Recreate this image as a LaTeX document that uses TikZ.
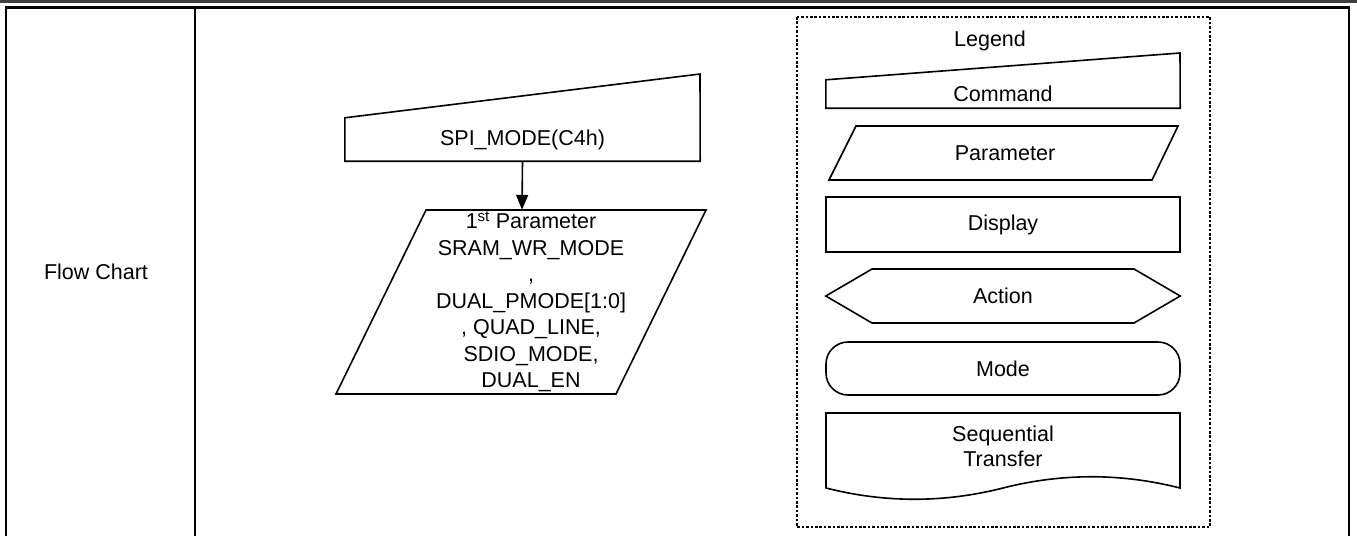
\documentclass[tikz,border=0pt]{standalone}
\usepackage{fontspec}
\setmainfont{Liberation Sans}
\usetikzlibrary{arrows.meta}

\tikzset{
  shp/.style={draw, line width=1.6pt},
  lbl/.style={inner sep=0pt, font=\fontsize{21.5}{26.5}\selectfont},
  frm/.style={line width=2.4pt},
}

\begin{document}
\begin{tikzpicture}[x=1pt, y=-1pt]
\useasboundingbox (0,0) rectangle (1357,536);
\fill[black!75] (0,0) rectangle (1357,2.8);
\draw[frm] (6,536) -- (6,7.5) -- (1349,7.5) -- (1349,536);
\draw[frm] (195,7.5) -- (195,536);
\node[lbl] (fc) at (96,272) {Flow Chart};

\node[lbl, minimum width=355, minimum height=43] (cmd) at (522.5,139.5) {SPI\_MODE(C4h)};
\draw[shp] (cmd.south west) -- (cmd.south east) -- (700,74) -- (cmd.north west) -- cycle;
\node[lbl, minimum height=184] (par) at (522,302) {};
\node[lbl, align=center] (partxt) at (531,302) {1\textsuperscript{st} Parameter\\SRAM\_WR\_MODE\\,\\DUAL\_PMODE[1:0]\\, QUAD\_LINE,\\SDIO\_MODE,\\DUAL\_EN};
\draw[shp] (336,394) -- (616,394) -- (706,210) -- (426,210) -- cycle;
\draw[line width=1.6pt, -{Triangle[width=12pt,length=15pt]}] (cmd.south) -- (par.north);

\draw[line width=1.6pt, dash pattern=on 2.6pt off 1.8pt] (797,17) rectangle (1210,527);
\node[lbl] (lgd) at (990,41) {Legend};
\node[lbl, minimum width=354, minimum height=28] (lcmd) at (1003,94) {Command};
\draw[shp] (lcmd.south west) -- (lcmd.south east) -- (1180,53) -- (lcmd.north west) -- cycle;
\node[lbl] (lpar) at (1005,153) {Parameter};
\draw[shp] (829,180) -- (1152,180) -- (1178,126) -- (856,126) -- cycle;
\node[lbl, shp, minimum width=354, minimum height=55] (ldis) at (1003,224.5) {Display};
\node[lbl, minimum width=354, minimum height=54] (lact) at (1003,296) {Action};
\draw[shp] (lact.west) -- (872,269) -- (1134,269) -- (lact.east) -- (1134,323) -- (872,323) -- cycle;
\node[lbl, shp, rounded corners=22pt, minimum width=354, minimum height=53] (lmod) at (1003,368.5) {Mode};
\node[lbl, align=center, font=\fontsize{21.5}{25}\selectfont] (lseq) at (1003,446) {Sequential\\Transfer};
\draw[shp] (826,488) -- (826,413) -- (1180,413) -- (1180,488)
  .. controls (1121,473) and (1062,473) .. (1003,488)
  .. controls (944,503) and (885,503) .. cycle;
\end{tikzpicture}
\end{document}
